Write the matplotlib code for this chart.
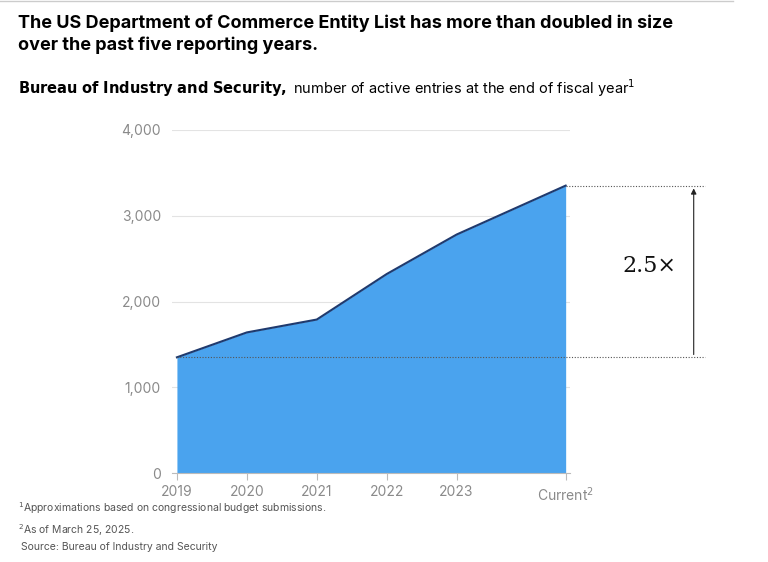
import matplotlib
matplotlib.use("Agg")
from matplotlib import pyplot
import numpy

years = ["2019", "2020", "2021", "2022", "2023", "Current$^2$"]
x_pos = [0, 1, 2, 3, 4, 5.56]
entries = [1350, 1640, 1790, 2320, 2780, 3350]

pyplot.rcParams["font.family"] = ["Inter", "DejaVu Sans"]

fig = pyplot.figure(figsize=(7.68, 5.62), dpi=100)
ax = fig.add_axes([0.224, 0.158, 0.518, 0.611])

x = numpy.array(x_pos)
y = numpy.array(entries)
ax.fill_between(x, 0, y, color="#4aa3ee", lw=0)
ax.plot(x, y, color="#1f3a6e", lw=1.5)

ax.set_xlim(-0.07, 5.62)
ax.set_ylim(0, 4000)
ax.set_yticks([0, 1000, 2000, 3000, 4000])
ax.set_yticklabels(["0", "1,000", "2,000", "3,000", "4,000"])
ax.set_xticks(x_pos)
ax.set_xticklabels(years)
ax.grid(axis="y", color="#e3e3e3", lw=0.8)
ax.set_axisbelow(True)
for s in ["top", "right", "left"]:
    ax.spines[s].set_visible(False)
ax.spines["bottom"].set_color("#bbbbbb")
ax.tick_params(axis="y", length=0, colors="#8a8a8a", labelsize=10, pad=8)
ax.tick_params(axis="x", length=5, color="#bbbbbb", colors="#8a8a8a", labelsize=10)

# dotted reference lines and the 2.5x arrow
x_end = 5.62 + 135 / 70
ax.plot([0, x_end], [entries[0]] * 2, ls=(0, (1, 1.5)), color="#555555", lw=0.8, clip_on=False)
ax.plot([x_pos[-1], x_end], [entries[-1]] * 2, ls=(0, (1, 1.5)), color="#555555", lw=0.8, clip_on=False)
x_arrow = 5.62 + 124 / 70
ax.annotate("", xy=(x_arrow, entries[-1]), xytext=(x_arrow, entries[0]),
            arrowprops=dict(arrowstyle="-|>", color="#222222", lw=0.8, mutation_scale=8),
            annotation_clip=False)
ax.text(x_arrow - 0.25, (entries[0] + entries[-1]) / 2 + 60, "2.5×", ha="right", va="center",
        fontsize=16, color="#111111", family=["DejaVu Serif"])

fig.text(0.024, 0.975, "The US Department of Commerce Entity List has more than doubled in size\nover the past five reporting years.",
         ha="left", va="top", fontsize=13, fontweight="bold", linespacing=1.4)
fig.text(0.024, 0.823, r"$\bf{Bureau\ of\ Industry\ and\ Security,}$ number of active entries at the end of fiscal year$^1$",
         ha="left", va="bottom", fontsize=10.5)
fig.text(0.024, 0.018, "$^1$Approximations based on congressional budget submissions.\n$^2$As of March 25, 2025.\n Source: Bureau of Industry and Security",
         ha="left", va="bottom", fontsize=7.5, color="#555555", linespacing=1.5)
fig.add_artist(pyplot.Line2D([0.0, 0.955], [0.999, 0.999], color="#cccccc", lw=1))

fig.savefig("out.png", dpi=100)
pyplot.close(fig)
